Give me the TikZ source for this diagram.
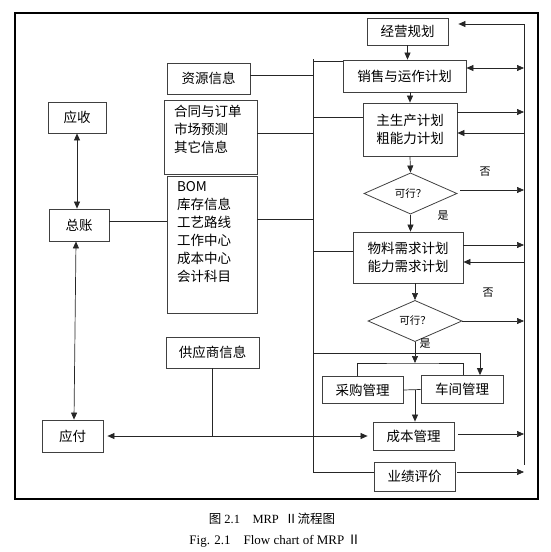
\documentclass[tikz,border=0pt]{standalone}
\usepackage{fontspec}
\setmainfont{Liberation Serif}
\newfontfamily\cjk{Noto Sans CJK SC}
\usetikzlibrary{positioning,arrows.meta,shapes.geometric}
\tikzset{>={Triangle[length=7pt,width=6pt]}}

\begin{document}
\begin{tikzpicture}[x=1pt,y=-1pt,
  box/.style={draw=black!75,line width=0.8pt,inner sep=0pt,align=center,font=\cjk\fontsize{13.5}{18}\selectfont},
  infobox/.style={draw=black!75,line width=0.8pt,inner sep=0pt,font=\cjk\fontsize{13.5}{18}\selectfont},
  test/.style={draw=black!75,line width=0.8pt,shape=diamond,inner sep=0pt,font=\cjk\fontsize{10.5}{12}\selectfont},
  wire/.style={black!85,line width=0.7pt},
  yn/.style={font=\cjk\fontsize{11}{12}\selectfont}]
\useasboundingbox (0,0) rectangle (551,552);
\draw[line width=2.2pt] (15,13) rectangle (538,499);

\node[box,minimum width=81pt,minimum height=27pt] (plan) at (407.5,31.5) {经营规划};
\node[box,minimum width=123pt,minimum height=32pt] (sop) at (404.5,76) {销售与运作计划};
\node[box,minimum width=94pt,minimum height=53pt] (mps) at (410,129.5) {主生产计划\\粗能力计划};
\node[test,minimum width=93pt,minimum height=37pt] (ok1) at (410.5,193.5) {可行？};
\node[box,minimum width=110pt,minimum height=51pt] (mrp) at (408,257.5) {物料需求计划\\能力需求计划};
\node[test,minimum width=94pt,minimum height=36pt] (ok2) at (415,321) {可行？};
\node[box,minimum width=81pt,minimum height=27pt] (buy) at (362.5,390) {采购管理};
\node[box,minimum width=82pt,minimum height=28pt] (shop) at (462,389.5) {车间管理};
\node[box,minimum width=81pt,minimum height=28pt] (cost) at (413.5,436) {成本管理};
\node[box,minimum width=81pt,minimum height=29pt] (eval) at (414.5,476.5) {业绩评价};

\node[box,minimum width=83pt,minimum height=31pt] (res) at (208.5,78.5) {资源信息};
\node[infobox,minimum width=93pt,minimum height=74pt] (order) at (210.5,137) {\parbox[c][64pt][t]{73pt}{合同与订单\\市场预测\\其它信息}};
\node[infobox,minimum width=90pt,minimum height=137pt] (bom) at (212,244.5) {\parbox[c][127pt][t]{70pt}{BOM\\库存信息\\工艺路线\\工作中心\\成本中心\\会计科目}};
\node[box,minimum width=93pt,minimum height=31pt] (sup) at (212.5,352.5) {供应商信息};

\node[box,minimum width=58pt,minimum height=31pt] (ar) at (77,117.5) {应收};
\node[box,minimum width=60pt,minimum height=32pt] (gl) at (79,225) {总账};
\node[box,minimum width=61pt,minimum height=32pt] (ap) at (72.5,436) {应付};

\coordinate (bt) at (313,59);
\coordinate (bb) at (313,472);
\coordinate (rt) at (524,24);
\coordinate (rb) at (524,465);
\coordinate (fork) at (415,363);
\coordinate (tap) at (313,353);

\draw[wire] (bt) -- (bb) -- (bb -| eval.west);
\draw[wire] (rt) -- (rb);
\draw[wire] ([yshift=-2pt]bt) -- ([yshift=-2pt]bt -| sop.west);
\draw[wire] ([yshift=3.5pt]res.east) -- ([yshift=3.5pt]res.east -| bt);
\draw[wire] ([yshift=4pt]order.east) -- ([yshift=4pt]order.east -| bt);
\draw[wire] ([yshift=25.5pt]bom.east) -- ([yshift=25.5pt]bom.east -| bt);
\draw[wire] ([yshift=12.5pt]mps.west) -- ([yshift=12.5pt]mps.west -| bt);
\draw[wire] ([yshift=6.5pt]mrp.west) -- ([yshift=6.5pt]mrp.west -| bt);

\draw[wire,->] (rt) -- ([xshift=10pt]plan.east |- rt);
\draw[wire,<->] ([yshift=8pt]sop.east) -- ([yshift=8pt]sop.east -| rt);
\draw[wire,->] ([yshift=17.5pt]mps.east) -- ([yshift=17.5pt]mps.east -| rt);
\draw[wire,->] ([yshift=-3.5pt]mps.east -| rt) -- ([yshift=-3.5pt]mps.east);
\draw[wire,->] ([shift={(3pt,3.5pt)}]ok1.east) -- ([yshift=3.5pt]ok1.east -| rt);
\draw[wire,->] ([yshift=12.5pt]mrp.east) -- ([yshift=12.5pt]mrp.east -| rt);
\draw[wire,->] ([yshift=-4.5pt]mrp.east -| rt) -- ([yshift=-4.5pt]mrp.east);
\draw[wire,->] (ok2.east) -- (ok2.east -| rt);
\draw[wire,->] ([shift={(4pt,2pt)}]cost.east) -- ([yshift=2pt]cost.east -| rt);
\draw[wire,->] ([shift={(2pt,4.5pt)}]eval.east) -- ([yshift=4.5pt]eval.east -| rt);

\draw[wire,->] (plan.south) -- (plan.south |- sop.north);
\draw[wire,->] (mps.north |- sop.south) -- (mps.north);
\draw[wire,->] (mps.south) -- (ok1.north);
\draw[wire,->] (ok1.south) -- (ok1.south |- mrp.north);
\draw[wire,->] (ok2.north |- mrp.south) -- (ok2.north);
\draw[wire,->] (ok2.south) -- (fork);
\draw[wire] ([xshift=-5.5pt]buy.north) |- (fork) -| ([xshift=1pt]shop.north);
\draw[wire,->] (tap) -| ([xshift=18pt]shop.north);
\draw[wire] (buy.east) -- (shop.west);
\draw[wire,->] (fork |- buy.east) -- (fork |- cost.north);

\draw[wire,<->,shorten <=4pt,shorten >=5pt] (ap.east) -- (cost.west);
\draw[wire] (sup.south) -- (sup.south |- ap.east);
\draw[wire,<->] (ar.south) -- (ar.south |- gl.north);
\draw[wire,<->] ([xshift=-3pt]gl.south) -- ([xshift=1.5pt]ap.north);
\draw[wire] ([yshift=4pt]gl.east) -- ([yshift=4pt]gl.east -| bom.west);

\node[yn] (no1) at (485,172) {否};
\node[yn] (yes1) at (443,216) {是};
\node[yn] (no2) at (488,293) {否};
\node[yn] (yes2) at (425,344) {是};

\node[font=\fontsize{12.5}{14}\selectfont] (capcn) at (272,519) {{\cjk 图} 2.1\quad MRP\enspace{\cjk Ⅱ流程图}};
\node[font=\fontsize{13}{15}\selectfont] (capen) at (275,541) {Fig. 2.1\quad Flow chart of MRP {\cjk Ⅱ}};
\end{tikzpicture}
\end{document}
